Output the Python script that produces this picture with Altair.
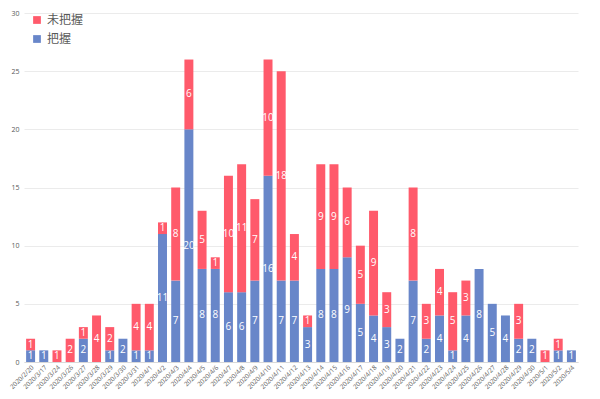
import altair as alt
import pandas as pd

dates = ["2020/2/20", "2020/3/17", "2020/3/24", "2020/3/26", "2020/3/27", "2020/3/28",
         "2020/3/29", "2020/3/30", "2020/3/31", "2020/4/1", "2020/4/2", "2020/4/3",
         "2020/4/4", "2020/4/5", "2020/4/6", "2020/4/7", "2020/4/8", "2020/4/9",
         "2020/4/10", "2020/4/11", "2020/4/12", "2020/4/13", "2020/4/14", "2020/4/15",
         "2020/4/16", "2020/4/17", "2020/4/18", "2020/4/19", "2020/4/20", "2020/4/21",
         "2020/4/22", "2020/4/23", "2020/4/24", "2020/4/25", "2020/4/26", "2020/4/27",
         "2020/4/28", "2020/4/29", "2020/4/30", "2020/5/1", "2020/5/2", "2020/5/4"]
known = [1, 1, 0, 0, 2, 0, 1, 2, 1, 1, 11, 7, 20, 8, 8, 6, 6, 7, 16, 7, 7, 3, 8, 8,
         9, 5, 4, 3, 2, 7, 2, 4, 1, 4, 8, 5, 4, 2, 2, 0, 1, 1]
unknown = [1, 0, 1, 2, 1, 4, 2, 0, 4, 4, 1, 8, 6, 5, 1, 10, 11, 7, 10, 18, 4, 1, 9, 9,
           6, 5, 9, 3, 0, 8, 3, 4, 5, 3, 0, 0, 0, 3, 0, 1, 1, 0]
series = ["未把握", "把握"]
colors = ["#FF5A6B", "#6886C9"]

rows = []
for d, k, u in zip(dates, known, unknown):
    rows.append({"date": d, "series": "把握", "value": k, "ord": 0})
    rows.append({"date": d, "series": "未把握", "value": u, "ord": 1})
df = pd.DataFrame(rows)

W, H = 554, 349

base = alt.Chart(df).transform_stack(
    stack="value", groupby=["date"], as_=["v0", "v1"], sort=[alt.SortField("ord")]
).transform_calculate(mid="(datum.v0 + datum.v1) / 2")

xenc = alt.X("date:N", sort=dates, title=None,
             scale=alt.Scale(paddingInner=0.32, paddingOuter=0.16),
             axis=alt.Axis(labelAngle=-45, labelFontSize=6.4, labelColor="#595959",
                           ticks=False, domainColor="#d9d9d9", labelPadding=2,
                           labelFont="Open Sans"))

bars = base.mark_bar().encode(
    x=xenc,
    y=alt.Y("v0:Q", title=None, scale=alt.Scale(domain=[0, 30]),
            axis=alt.Axis(values=[0, 5, 10, 15, 20, 25, 30], labelFontSize=7,
                          labelColor="#595959", ticks=False, domain=False,
                          gridColor="#ebebeb", labelPadding=5, labelFont="Open Sans")),
    y2="v1:Q",
    color=alt.Color("series:N", scale=alt.Scale(domain=series, range=colors),
                    legend=alt.Legend(title=None, orient="none", legendX=7, legendY=1,
                                      symbolType="square", symbolSize=60,
                                      labelFontSize=12, labelColor="#595959",
                                      labelFont="Noto Sans CJK JP", rowPadding=7,
                                      padding=0, symbolStrokeWidth=0)),
)

labels = base.transform_filter("datum.value > 0").mark_text(
    color="white", fontSize=10, font="Open Sans", baseline="middle"
).encode(
    x=alt.X("date:N", sort=dates),
    y=alt.Y("mid:Q"),
    text="value:Q",
)

chart = alt.layer(bars, labels).properties(
    width=W, height=H,
    autosize=alt.AutoSizeParams(type="none"),
    padding={"left": 16, "top": 5, "right": 10, "bottom": 29},
).configure_view(stroke=None)

chart.save("out.html", embed_options={"renderer": "svg", "actions": False})
